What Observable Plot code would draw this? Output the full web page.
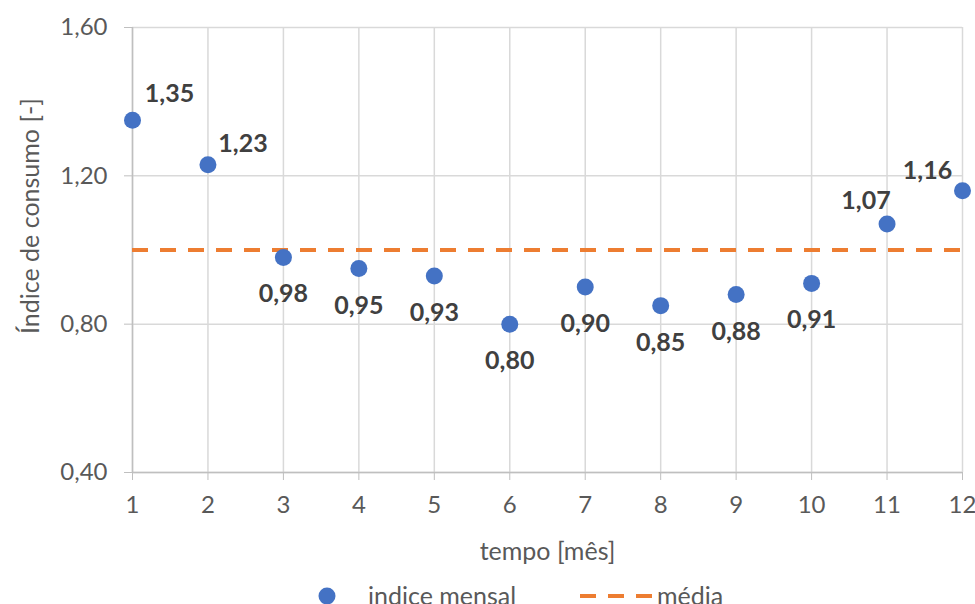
<!DOCTYPE html>
<html>
<head>
<meta charset="utf-8">
<script src="https://cdn.jsdelivr.net/npm/d3@7"></script>
<script src="https://cdn.jsdelivr.net/npm/@observablehq/plot@0.6"></script>
<style>
  html, body { margin: 0; padding: 0; background: #fff; overflow: hidden; }
  #wrap { width: 975px; height: 604px; position: relative; font-family: Lato, "Open Sans", sans-serif; }
  #legend { position: absolute; left: 0; top: 575px; width: 975px; height: 29px; overflow: hidden; }
  .lg-text { position: absolute; font-size: 25px; color: #595959; line-height: 25px; white-space: nowrap; }
</style>
</head>
<body>
<div id="wrap">
  <div id="chart"></div>
  <div id="legend"></div>
</div>
<script>
const months = [1, 2, 3, 4, 5, 6, 7, 8, 9, 10, 11, 12];
const indiceMensal = [1.35, 1.23, 0.98, 0.95, 0.93, 0.80, 0.90, 0.85, 0.88, 0.91, 1.07, 1.16];
const media = [1.00];
const yTicks = [0.40, 0.80, 1.20, 1.60];
const xTicks = [1, 2, 3, 4, 5, 6, 7, 8, 9, 10, 11, 12];
const seriesNames = ["indice mensal", "média"];
const xTitle = "tempo [mês]";
const yTitle = "Índice de consumo [-]";

const data = months.map((m, i) => ({month: m, value: indiceMensal[i]}));
const fmt = v => v.toFixed(2).replace(".", ",");

const blue = "#4472C4";
const orange = "#ED7D31";
const grid = "#d9d9d9";
const axisCol = "#bfbfbf";
const textCol = "#595959";

function labels(filter, dx, dy) {
  return Plot.text(data.filter(filter), {
    x: "month", y: "value", text: d => fmt(d.value),
    dx, dy, fontWeight: "bold", fontSize: 25, fill: "#404040", lineAnchor: "middle"
  });
}

const chart = Plot.plot({
  width: 975,
  height: 575,
  marginTop: 27,
  marginBottom: 103,
  marginLeft: 132,
  marginRight: 13,
  style: {fontFamily: "Lato, 'Open Sans', sans-serif", fontSize: "24px", background: "#fff"},
  x: {domain: [1, 12]},
  y: {domain: [0.4, 1.6]},
  marks: [
    Plot.gridX(xTicks, {stroke: grid, strokeOpacity: 1, strokeWidth: 1.5}),
    Plot.gridY(yTicks, {stroke: grid, strokeOpacity: 1, strokeWidth: 1.5}),
    Plot.ruleX([1], {stroke: axisCol, strokeWidth: 1.5}),
    Plot.ruleY([0.4], {stroke: axisCol, strokeWidth: 1.5}),
    Plot.axisX(xTicks, {tickSize: 8, tickPadding: 15, stroke: axisCol, fill: textCol, fontSize: 24, label: null, tickFormat: d => String(d)}),
    Plot.axisY(yTicks, {tickSize: 8, tickPadding: 17, stroke: axisCol, fill: textCol, fontSize: 24, label: null, tickFormat: fmt}),
    Plot.ruleY(media, {x1: 1, x2: 12, stroke: orange, strokeWidth: 4, strokeDasharray: "16,12"}),
    Plot.dot(data, {x: "month", y: "value", r: 8.5, fill: blue, stroke: null}),
    labels(d => d.month === 1, 37, -26),
    labels(d => d.month === 2, 35, -21),
    labels(d => d.month >= 3 && d.month <= 10, 0, 37),
    labels(d => d.month === 11, -21, -23),
    labels(d => d.month === 12, -35, -20),
    Plot.text([xTitle], {frameAnchor: "bottom", dy: 79, fill: textCol, fontSize: 25, lineAnchor: "middle", textAnchor: "middle"}),
    Plot.text([yTitle], {frameAnchor: "left", dx: -102, dy: -34, rotate: -90, fill: textCol, fontSize: 25, lineAnchor: "middle", textAnchor: "middle"})
  ]
});
document.getElementById("chart").appendChild(chart);

// Legend below the chart
const legend = document.getElementById("legend");
const ns = "http://www.w3.org/2000/svg";
const lsvg = document.createElementNS(ns, "svg");
lsvg.setAttribute("width", 975);
lsvg.setAttribute("height", 29);
lsvg.style.position = "absolute";
lsvg.style.left = "0px";
lsvg.style.top = "0px";
const c = document.createElementNS(ns, "circle");
c.setAttribute("cx", 327); c.setAttribute("cy", 21); c.setAttribute("r", 8.5); c.setAttribute("fill", blue);
lsvg.appendChild(c);
const l = document.createElementNS(ns, "line");
l.setAttribute("x1", 580); l.setAttribute("x2", 652); l.setAttribute("y1", 21); l.setAttribute("y2", 21);
l.setAttribute("stroke", orange); l.setAttribute("stroke-width", 4); l.setAttribute("stroke-dasharray", "16,12");
lsvg.appendChild(l);
legend.appendChild(lsvg);
const t1 = document.createElement("div");
t1.className = "lg-text"; t1.style.left = "368px"; t1.style.top = "8px"; t1.textContent = seriesNames[0];
legend.appendChild(t1);
const t2 = document.createElement("div");
t2.className = "lg-text"; t2.style.left = "657px"; t2.style.top = "8px"; t2.textContent = seriesNames[1];
legend.appendChild(t2);
</script>
</body>
</html>
